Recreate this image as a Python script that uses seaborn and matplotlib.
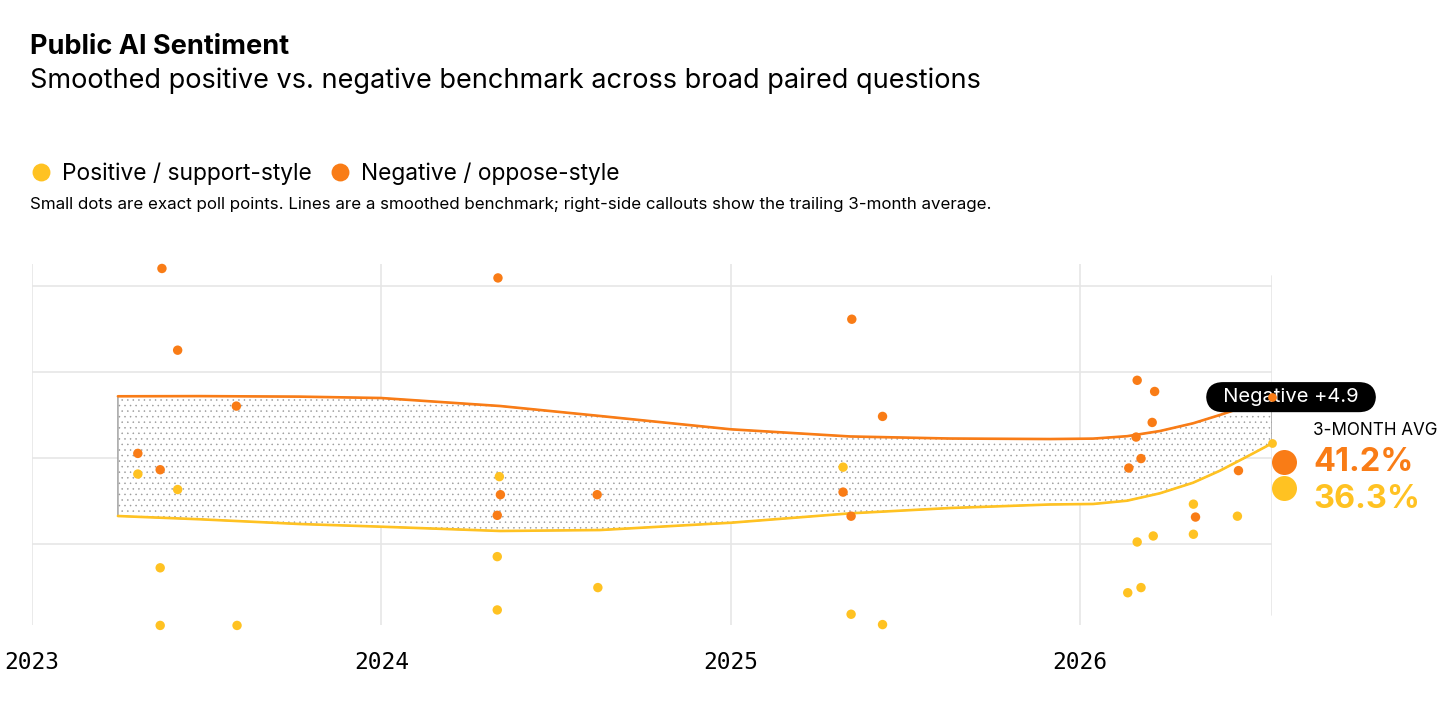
import pandas as pd
import matplotlib
matplotlib.use('Agg')
from matplotlib import pyplot as plt
import seaborn as sns

# exact poll points (decimal year, share in %)
neg_x = [2023.372, 2023.417, 2023.585, 2023.303, 2023.367,
         2024.334, 2024.341, 2024.618, 2024.332,
         2025.347, 2025.435, 2025.322, 2025.345,
         2026.164, 2026.214, 2026.207, 2026.161, 2026.175, 2026.140, 2026.454, 2026.331]
neg_y = [52.0, 42.5, 36.0, 30.5, 28.6,
         50.9, 25.7, 25.7, 23.3,
         46.1, 34.8, 26.0, 23.2,
         39.0, 37.7, 34.1, 32.4, 29.9, 28.8, 28.5, 23.1]
pos_x = [2023.303, 2023.417, 2023.367, 2023.367, 2023.587,
         2024.338, 2024.332, 2024.620, 2024.332,
         2025.322, 2025.345, 2025.435,
         2026.325, 2026.451, 2026.325, 2026.164, 2026.210, 2026.137, 2026.175]
pos_y = [28.1, 26.3, 17.2, 10.5, 10.5,
         27.8, 18.5, 14.9, 12.3,
         28.9, 11.8, 10.6,
         24.6, 23.2, 21.1, 20.2, 20.9, 14.3, 14.9]

# smoothed benchmark, read at these dates
bench_x = [2023.246, 2023.481, 2023.767, 2023.999, 2024.340, 2024.626, 2025.001,
           2025.342, 2025.628, 2025.914, 2026.038, 2026.135, 2026.229, 2026.324,
           2026.401, 2026.487, 2026.550]
bench_neg = [37.14, 37.16, 37.10, 36.94, 36.01, 34.85, 33.30, 32.47, 32.23, 32.17,
             32.22, 32.50, 33.10, 34.00, 34.97, 36.13, 37.09]
bench_pos = [23.22, 22.84, 22.29, 21.98, 21.48, 21.59, 22.44, 23.53, 24.15, 24.56,
             24.62, 25.00, 25.86, 27.09, 28.49, 30.31, 31.67]

avg_neg = 41.2
avg_pos = 36.3
year_ticks = [2023, 2024, 2025, 2026]
grid_y = [20, 30, 40, 50]

POS_LBL = 'Positive / support-style'
NEG_LBL = 'Negative / oppose-style'
POS = '#FFC222'
NEG = '#F97C16'
GRID = '#e6e6e6'

sns.set_theme(style='white')
plt.rcParams['font.family'] = ['Inter', 'DejaVu Sans']
plt.rcParams['text.color'] = 'black'
plt.rcParams['hatch.linewidth'] = 0.35


def fx(px):
    return px / 1456


def fy(py):
    return 1 - py / 715


polls = pd.DataFrame({
    'date': pos_x + neg_x,
    'share': pos_y + neg_y,
    'series': [POS_LBL] * len(pos_x) + [NEG_LBL] * len(neg_x),
})
bench = pd.DataFrame({
    'date': bench_x + bench_x,
    'share': bench_pos + bench_neg,
    'series': [POS_LBL] * len(bench_x) + [NEG_LBL] * len(bench_x),
})
pal = {POS_LBL: POS, NEG_LBL: NEG}

fig = plt.figure(figsize=(14.56, 7.15), dpi=100)
ax = fig.add_axes([fx(32), fy(625), fx(1272) - fx(32), fy(264) - fy(625)])

# dotted band between the two benchmark lines
ax.fill_between(bench_x, bench_pos, bench_neg, facecolor='white', edgecolor='#999999',
                hatch='...', linewidth=1.0, zorder=1)
sns.lineplot(data=bench, x='date', y='share', hue='series', palette=pal, linewidth=1.9,
             legend=False, ax=ax, zorder=3)
sns.scatterplot(data=polls, x='date', y='share', hue='series', hue_order=[POS_LBL, NEG_LBL],
                palette=pal, s=46, linewidth=0, ax=ax, zorder=4, clip_on=False)

# end of line markers
ax.scatter([bench_x[-1]], [bench_pos[-1]], s=40, color=POS, linewidth=0, zorder=6, clip_on=False)

ax.annotate('  Negative +4.9  ', xy=(bench_x[-1], bench_neg[-1]), xytext=(13.7, -0.3),
            textcoords='offset points', ha='center', va='center', color='white', fontsize=14.5,
            bbox=dict(boxstyle='round,pad=0.3,rounding_size=0.85', fc='black', ec='none'),
            zorder=5, annotation_clip=False)
ax.scatter([bench_x[-1]], [bench_neg[-1]], s=40, color=NEG, linewidth=0, zorder=6, clip_on=False)

ax.set_xlim(2023, bench_x[-1])
ax.set_ylim(10.55, 52.52)
ax.set_xticks(year_ticks)
ax.set_xticklabels([str(y) for y in year_ticks], fontfamily='DejaVu Sans Mono', fontsize=16.5)
ax.set_yticks(grid_y)
ax.set_yticklabels([])
ax.tick_params(axis='x', length=0, pad=19, colors='black')
ax.tick_params(axis='y', length=0)
ax.grid(True, color=GRID, linewidth=1.2)
ax.axvline(bench_x[-1], ymin=0.028, ymax=0.967, color=GRID, linewidth=1.2, zorder=0)
ax.set_xlabel('')
ax.set_ylabel('')
for s in ax.spines.values():
    s.set_visible(False)

sns.move_legend(ax, 'center left', bbox_to_anchor=(fx(19), fy(174)), bbox_transform=fig.transFigure,
                ncol=2, title=None, frameon=False, markerscale=1.9, handlelength=0.9,
                handletextpad=0.47, columnspacing=0.8, fontsize=16.4, borderpad=0)

fig.text(fx(30), fy(54.3), 'Public AI Sentiment', fontsize=19.5, weight='bold', va='baseline')
fig.text(fx(30), fy(88.3), 'Smoothed positive vs. negative benchmark across broad paired questions',
         fontsize=19.5, va='baseline')
fig.text(fx(30), fy(209.3), 'Small dots are exact poll points. Lines are a smoothed benchmark; '
         'right-side callouts show the trailing 3-month average.', fontsize=12.2, va='baseline')

# trailing 3-month average callout
fig.text(fx(1313), fy(435), '3-MONTH AVG', fontsize=12.3, va='baseline')
ax.plot([fx(1284)], [fy(461.7)], 'o', ms=18, color=NEG, mew=0, transform=fig.transFigure, clip_on=False)
ax.plot([fx(1284)], [fy(487.7)], 'o', ms=18, color=POS, mew=0, transform=fig.transFigure, clip_on=False)
fig.text(fx(1313), fy(471), f'{avg_neg:.1f}%', fontsize=23.4, weight='bold', color=NEG, va='baseline')
fig.text(fx(1313), fy(508.3), f'{avg_pos:.1f}%', fontsize=23.4, weight='bold', color=POS, va='baseline')

fig.savefig('out.png', dpi=100)
